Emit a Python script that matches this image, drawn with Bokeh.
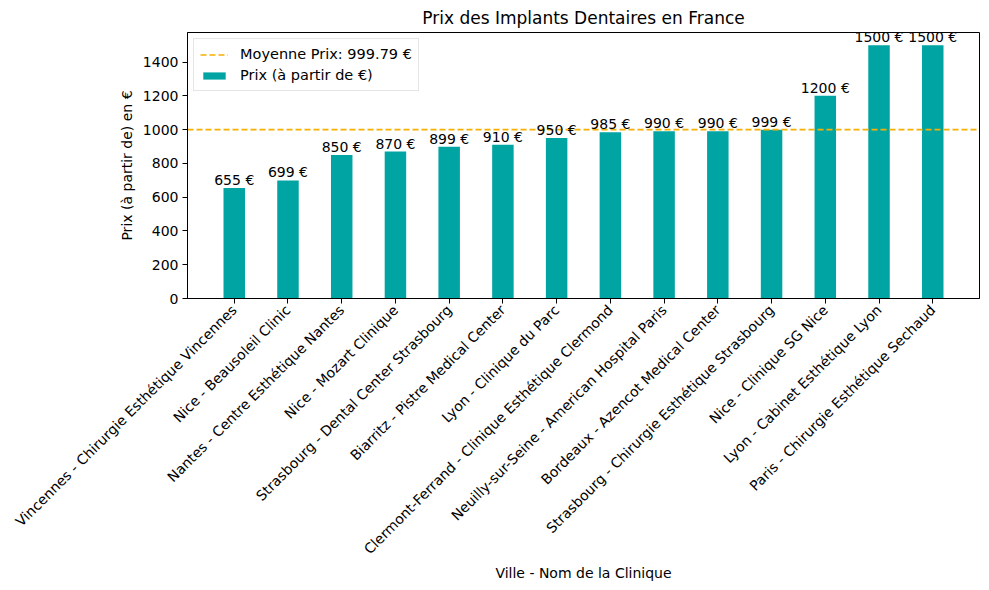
from bokeh.plotting import figure
from bokeh.models import (Range1d, FixedTicker, Legend, LegendItem, ColumnDataSource, LabelSet)
from bokeh.embed import file_html
from bokeh.resources import INLINE
from bokeh.core.properties import value
import math

cliniques = [
    "Vincennes - Chirurgie Esthétique Vincennes",
    "Nice - Beausoleil Clinic",
    "Nantes - Centre Esthétique Nantes",
    "Nice - Mozart Clinique",
    "Strasbourg - Dental Center Strasbourg",
    "Biarritz - Pistre Medical Center",
    "Lyon - Clinique du Parc",
    "Clermont-Ferrand - Clinique Esthétique Clermond",
    "Neuilly-sur-Seine - American Hospital Paris",
    "Bordeaux - Azencot Medical Center",
    "Strasbourg - Chirurgie Esthétique Strasbourg",
    "Nice - Clinique SG Nice",
    "Lyon - Cabinet Esthétique Lyon",
    "Paris - Chirurgie Esthétique Sechaud",
]
prix = [655, 699, 850, 870, 899, 910, 950, 985, 990, 990, 999, 1200, 1500, 1500]
y_ticks = [0, 200, 400, 600, 800, 1000, 1200, 1400]

moyenne = sum(prix) / len(prix)
n = len(prix)
xs = list(range(n))
bar_w = 0.4
pad = 0.05 * (n - 1 + bar_w)
x_lo, x_hi = -bar_w / 2 - pad, n - 1 + bar_w / 2 + pad

FONT = "DejaVu Sans"
TEAL = "#00A5A3"
ORANGE = "#F5B000"

p = figure(width=989, height=590, output_backend="svg", toolbar_location=None,
           x_range=Range1d(x_lo, x_hi), y_range=Range1d(0, max(prix) * 1.05),
           min_border_left=187, min_border_right=10, min_border_top=32, min_border_bottom=292,
           title="Prix des Implants Dentaires en France")
p.title.align = "center"
p.title.text_font = FONT
p.title.text_font_size = "17px"
p.title.text_font_style = "normal"
p.title.text_color = "black"

src = ColumnDataSource(dict(x=xs, y=prix, lab=[f"{v} €" for v in prix]))
bars = p.vbar(x="x", top="y", width=bar_w, source=src, fill_color=TEAL, line_color=None)

mean_line = p.line([x_lo, x_hi], [moyenne, moyenne], line_color=ORANGE, line_dash="6 3", line_width=1.6)

labels = LabelSet(x="x", y="y", text="lab", source=src, text_align="center", text_baseline="bottom",
                  text_font=value(FONT), text_font_size="14px", text_color="black")
p.add_layout(labels)

legend = Legend(items=[LegendItem(label=f"Moyenne Prix: {moyenne:.2f} €", renderers=[mean_line]),
                       LegendItem(label="Prix (à partir de €)", renderers=[bars])],
                location="top_left")
legend.label_text_font = FONT
legend.label_text_font_size = "14.5px"
legend.label_text_color = "black"
legend.border_line_color = "#cccccc"
legend.border_line_width = 1
legend.background_fill_alpha = 0.8
legend.margin = 6
legend.padding = 6
legend.spacing = 3
legend.glyph_width = 28
legend.glyph_height = 9
legend.label_height = 18
legend.label_standoff = 12
p.add_layout(legend)

p.xgrid.visible = False
p.ygrid.visible = False
p.outline_line_color = "black"
p.outline_line_width = 1

xa = p.xaxis[0]
xa.ticker = FixedTicker(ticks=xs)
xa.major_label_overrides = {i: c for i, c in enumerate(cliniques)}
xa.major_label_orientation = math.pi / 4
xa.axis_label = "Ville - Nom de la Clinique"

ya = p.yaxis[0]
ya.ticker = FixedTicker(ticks=y_ticks)
ya.axis_label = "Prix (à partir de) en €"

for ax in (xa, ya):
    ax.minor_tick_line_color = None
    ax.major_tick_out = 5
    ax.major_tick_in = 0
    ax.axis_line_color = "black"
    ax.major_tick_line_color = "black"
    ax.major_label_text_font = FONT
    ax.major_label_text_font_size = "14px"
    ax.major_label_text_color = "black"
    ax.axis_label_text_font = FONT
    ax.axis_label_text_font_size = "14px"
    ax.axis_label_text_font_style = "normal"
    ax.axis_label_text_color = "black"
    ax.major_label_standoff = 4

xa.axis_label_standoff = -1

open("out.html", "w").write(file_html(p, INLINE))
